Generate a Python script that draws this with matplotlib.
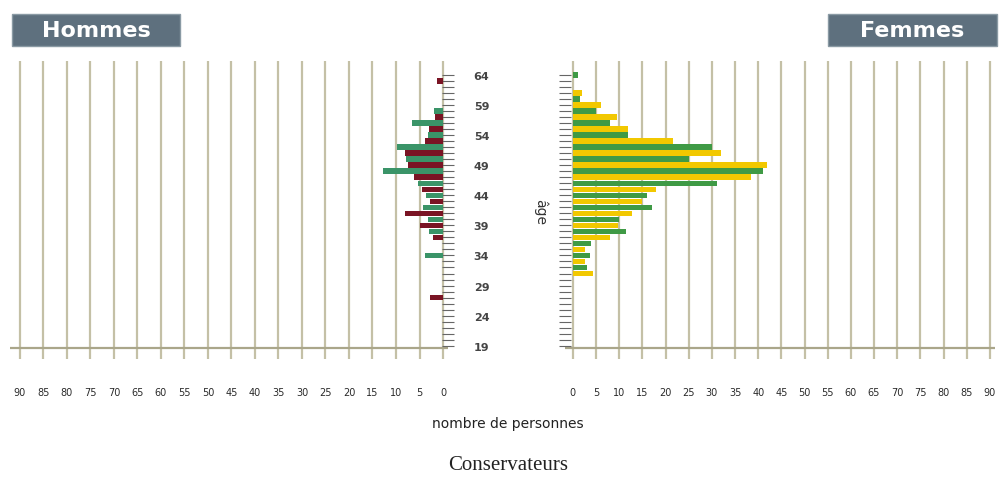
import numpy as np
import matplotlib
matplotlib.use("Agg")
import matplotlib.pyplot as plt
from matplotlib.patches import Rectangle

# ages 19..64, one bar per age, colour alternates with parity of age
ages = np.arange(19, 65)

# men (nombre de personnes)
hommes = {63: 1.3, 58: 2.0, 57: 1.7, 56: 6.5, 55: 3.0, 54: 3.3, 53: 3.8, 52: 9.8,
          51: 8.0, 50: 7.8, 49: 7.5, 48: 12.8, 47: 6.1, 46: 5.3, 45: 4.5, 44: 3.6,
          43: 2.8, 42: 4.2, 41: 8.0, 40: 3.3, 39: 4.8, 38: 3.0, 37: 2.2, 34: 3.8,
          27: 2.8}
# women
femmes = {64: 1.0, 61: 2.0, 60: 1.5, 59: 6.0, 58: 5.0, 57: 9.5, 56: 8.0, 55: 12.0,
          54: 12.0, 53: 21.5, 52: 30.0, 51: 32.0, 50: 25.0, 49: 42.0, 48: 41.0,
          47: 38.5, 46: 31.0, 45: 18.0, 44: 16.0, 43: 15.0, 42: 17.0, 41: 12.7,
          40: 10.0, 39: 9.8, 38: 11.5, 37: 8.0, 36: 4.0, 35: 2.7, 34: 3.7, 33: 2.7,
          32: 3.0, 31: 4.4}

h_vals = np.array([hommes.get(a, 0) for a in ages])
f_vals = np.array([femmes.get(a, 0) for a in ages])

x_ticks = np.arange(0, 91, 5)
age_labels = np.arange(19, 65, 5)

c_h_even, c_h_odd = "#3a9468", "#7a1424"
c_f_even, c_f_odd = "#3f9a45", "#f2c800"
grid_c = "#c4c0a6"

fig = plt.figure(figsize=(10.01, 4.81), dpi=100)
W, H = 1001, 481
def box(x0, y0, x1, y1):
    return [x0 / W, 1 - y1 / H, (x1 - x0) / W, (y1 - y0) / H]

axL = fig.add_axes(box(10, 62, 448, 360))
axR = fig.add_axes(box(565, 62, 995, 360))

for ax in (axL, axR):
    for sp in ax.spines.values():
        sp.set_visible(False)
    ax.set_ylim(16.8, 66.3)
    for x in x_ticks:
        ax.axvline(x, color=grid_c, lw=1.6, zorder=0)
    ax.axhline(18.6, color="#aaa68a", lw=1.6, zorder=1)
    ax.set_xticks(x_ticks)
    ax.tick_params(axis="x", length=0, labelsize=7, labelcolor="#2a2a2a", pad=20)
    ax.set_yticks(age_labels)
    ax.set_yticks(ages, minor=True)
    ax.tick_params(axis="y", which="both", direction="inout", length=9,
                   color="#666666", width=0.8)

colsL = [c_h_even if a % 2 == 0 else c_h_odd for a in ages]
colsR = [c_f_even if a % 2 == 0 else c_f_odd for a in ages]
axL.barh(ages, h_vals, height=0.9, color=colsL, zorder=2)
axR.barh(ages, f_vals, height=0.9, color=colsR, zorder=2)

axL.set_xlim(92.1, -1.06)
axR.set_xlim(-1.7, 91.1)

axL.yaxis.tick_right()
axL.tick_params(axis="y", labelsize=8, labelcolor="#444444", pad=14)
for t in axL.get_yticklabels():
    t.set_fontweight("bold")
axR.tick_params(axis="y", labelleft=False)

fig.text(540 / W, 1 - 212 / H, "âge", rotation=-90, ha="center", va="center",
         fontsize=10, color="#333333")

# header boxes
for (x0, x1, label) in [(12, 180, "Hommes"), (828, 997, "Femmes")]:
    fig.patches.append(Rectangle((x0 / W, 1 - 47 / H), (x1 - x0) / W, 32 / H,
                                 transform=fig.transFigure, facecolor="#5e707e",
                                 edgecolor="#8a9aa4", lw=1))
    fig.text((x0 + x1) / 2 / W, 1 - 31 / H, label, ha="center", va="center",
             fontsize=16, fontweight="bold", color="white")

fig.text(508 / W, 1 - 424 / H, "nombre de personnes", ha="center", va="center",
         fontsize=10, color="#222222")
fig.text(508 / W, 1 - 466 / H, "Conservateurs", ha="center", va="center",
         fontsize=15, family="Liberation Serif", color="#222222")

fig.savefig("out.png", dpi=100)
